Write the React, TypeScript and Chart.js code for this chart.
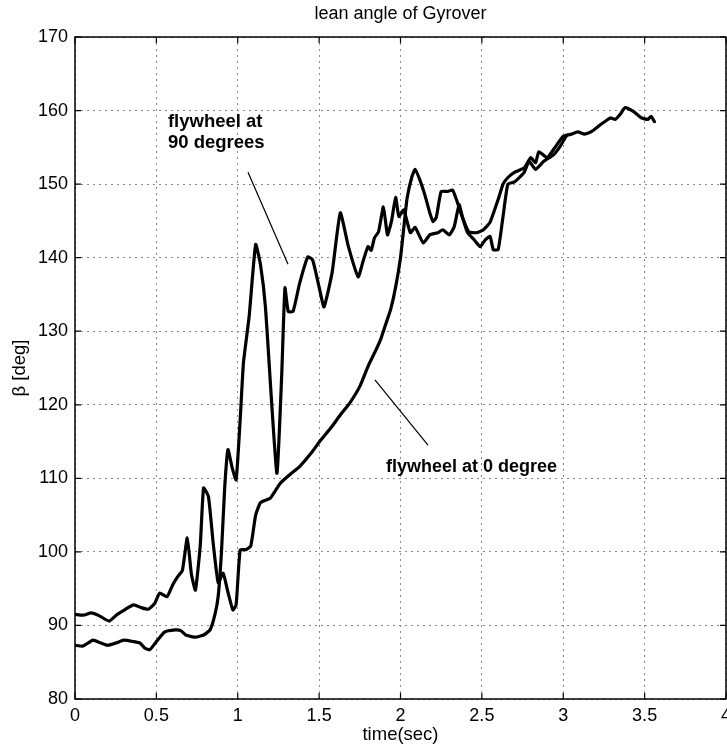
import React, { useEffect, useRef } from "react";
import { Chart, registerables } from "chart.js";

Chart.register(...registerables);

const FONT = "'Liberation Sans', Arial, Helvetica, sans-serif";

const titleText = "lean angle of Gyrover";
const xAxisTitle = "time(sec)";
const yAxisTitle = "β [deg]";

const xTickValues = [0, 0.5, 1, 1.5, 2, 2.5, 3, 3.5, 4];
const yTickValues = [80, 90, 100, 110, 120, 130, 140, 150, 160, 170];

// flywheel at 0 degree (starts near 91)
const time0 = [
  0, 0.05, 0.1, 0.15, 0.21, 0.26, 0.31, 0.36, 0.41, 0.45, 0.49, 0.52, 0.565, 0.6, 0.63, 0.66, 0.69, 0.715,
  0.74, 0.77, 0.79, 0.82, 0.85, 0.88, 0.91, 0.94, 0.97, 0.99, 1.015, 1.05, 1.08, 1.11, 1.14, 1.2, 1.26,
  1.32, 1.38, 1.45, 1.51, 1.57, 1.63, 1.69, 1.75, 1.8, 1.85, 1.88, 1.91, 1.94, 1.97, 2.0, 2.02, 2.04,
  2.07, 2.09, 2.12, 2.15, 2.18, 2.2, 2.22, 2.25, 2.29, 2.32, 2.35, 2.38, 2.42, 2.47, 2.51, 2.55, 2.6,
  2.63, 2.66, 2.7, 2.76, 2.8, 2.83, 2.85, 2.9, 2.94, 3.0, 3.05, 3.09, 3.13, 3.17, 3.23, 3.29, 3.32,
  3.35, 3.38, 3.43, 3.48, 3.52, 3.54, 3.56,
];
const beta0 = [
  91.5, 91.4, 91.7, 91.3, 90.6, 91.5, 92.2, 92.8, 92.4, 92.2, 93.0, 94.4, 93.9, 95.5, 96.6, 97.5, 101.9, 97,
  94.8, 101, 108.7, 107.5, 101, 95.8, 97.1, 94.5, 92.1, 92.8, 100.3, 100.3, 100.8, 105, 106.7, 107.3, 109.3,
  110.5, 111.6, 113.4, 115.2, 116.8, 118.6, 120.3, 122.5, 125.2, 127.5, 129.0, 131, 133, 136, 140, 144, 148,
  151, 152, 150.5, 148.5, 146.1, 144.9, 145.5, 149, 149, 149.2, 147.5, 145.5, 143.5, 143.4, 143.8, 144.8, 147.9,
  150, 150.9, 151.6, 152.2, 153.6, 152.9, 154.4, 153.6, 154.7, 156.5, 156.8, 157.1, 156.8, 157.1, 158.1, 159, 158.8,
  159.5, 160.4, 159.9, 159, 158.8, 159.2, 158.5,
];

// flywheel at 90 degrees (starts near 87)
const time90 = [
  0, 0.05, 0.11, 0.16, 0.2, 0.25, 0.3, 0.36, 0.4, 0.43, 0.46, 0.5, 0.55, 0.615, 0.65, 0.68, 0.74, 0.79,
  0.83, 0.86, 0.88, 0.9, 0.92, 0.94, 0.965, 0.99, 1.015, 1.035, 1.07, 1.11, 1.14, 1.17, 1.24, 1.27, 1.29,
  1.31, 1.34, 1.38, 1.43, 1.46, 1.5, 1.53, 1.58, 1.63, 1.68, 1.74, 1.77, 1.8, 1.82, 1.84, 1.865, 1.895,
  1.92, 1.945, 1.97, 1.99, 2.02, 2.06, 2.09, 2.14, 2.18, 2.23, 2.26, 2.3, 2.33, 2.36, 2.38, 2.41, 2.45,
  2.49, 2.52, 2.55, 2.57, 2.6, 2.63, 2.66, 2.7, 2.76, 2.79, 2.83, 2.88, 2.94, 2.98, 3.02,
];
const beta90 = [
  87.3, 87.2, 88.0, 87.6, 87.3, 87.6, 88.0, 87.8, 87.6, 86.9, 86.7, 87.8, 89.1, 89.4, 89.3, 88.7, 88.4, 88.7,
  89.4, 91.5, 94, 100, 108.8, 113.9, 111.5, 109.8, 118, 125.7, 132, 141.8, 139, 133.3, 110.7, 124, 135.9,
  132.7, 132.7, 136.5, 140.1, 139.7, 136, 133.3, 138, 146.1, 141.5, 137.4, 139.5, 141.5, 141, 142.7, 143.5, 146.9,
  143.1, 145, 148.2, 145.6, 146.5, 143.4, 144.1, 142, 143.1, 143.4, 143.8, 143.1, 144.2, 147.2, 145.6, 143.5, 142.5,
  141.5, 142.4, 142.9, 141.1, 141.1, 145.6, 150, 150.3, 151.6, 153.1, 152, 153.1, 154, 155.1, 156.6,
];

// annotations (data coordinates)
const label90Lines = ["flywheel at", "90 degrees"];
const label90Pos = [0.571, 158.4];
const label90LineGap = 2.85;
const leader90 = [
  [1.063, 151.6],
  [1.309, 139.1],
];
const label0Text = "flywheel at 0 degree";
const label0Pos = [1.911, 111.5];
const leader0 = [
  [1.843, 123.4],
  [2.169, 114.5],
];

const decorPlugin = {
  id: "decor",
  afterDraw(chart: any) {
    const { ctx, chartArea: a, scales } = chart;
    const xs = scales.x;
    const ys = scales.y;
    ctx.save();
    ctx.setLineDash([]);
    // box
    ctx.strokeStyle = "#000";
    ctx.lineWidth = 1.5;
    ctx.strokeRect(a.left, a.top, a.right - a.left, a.bottom - a.top);
    // inward ticks
    ctx.lineWidth = 1.2;
    ctx.beginPath();
    const tl = 6;
    xTickValues.forEach((v) => {
      const px = xs.getPixelForValue(v);
      ctx.moveTo(px, a.bottom);
      ctx.lineTo(px, a.bottom - tl);
      ctx.moveTo(px, a.top);
      ctx.lineTo(px, a.top + tl);
    });
    yTickValues.forEach((v) => {
      const py = ys.getPixelForValue(v);
      ctx.moveTo(a.left, py);
      ctx.lineTo(a.left + tl, py);
      ctx.moveTo(a.right, py);
      ctx.lineTo(a.right - tl, py);
    });
    ctx.stroke();

    // leader lines
    ctx.lineWidth = 1.2;
    ctx.beginPath();
    [leader90, leader0].forEach((seg) => {
      ctx.moveTo(xs.getPixelForValue(seg[0][0]), ys.getPixelForValue(seg[0][1]));
      ctx.lineTo(xs.getPixelForValue(seg[1][0]), ys.getPixelForValue(seg[1][1]));
    });
    ctx.stroke();

    ctx.fillStyle = "#000";
    // title
    const cx = (a.left + a.right) / 2;
    ctx.font = `18px ${FONT}`;
    ctx.textAlign = "center";
    ctx.textBaseline = "middle";
    ctx.fillText(titleText, cx, 14);
    // x axis title
    ctx.font = `18.5px ${FONT}`;
    ctx.fillText(xAxisTitle, cx, 735);
    // y axis title
    ctx.save();
    ctx.translate(20, (a.top + a.bottom) / 2);
    ctx.rotate(-Math.PI / 2);
    ctx.fillText(yAxisTitle, 0, 0);
    ctx.restore();

    // annotation texts
    ctx.font = `bold 18.5px ${FONT}`;
    ctx.textAlign = "left";
    label90Lines.forEach((line, i) => {
      ctx.fillText(
        line,
        xs.getPixelForValue(label90Pos[0]),
        ys.getPixelForValue(label90Pos[1] - i * label90LineGap)
      );
    });
    ctx.font = `bold 18px ${FONT}`;
    ctx.fillText(label0Text, xs.getPixelForValue(label0Pos[0]), ys.getPixelForValue(label0Pos[1]));
    ctx.restore();
  },
};

export default function App() {
  const canvasRef = useRef<HTMLCanvasElement | null>(null);

  useEffect(() => {
    document.body.style.margin = "0";
    const canvas = canvasRef.current;
    if (!canvas) return;
    const toPts = (t: number[], v: number[]) => t.map((x, i) => ({ x, y: v[i] }));
    const lineStyle = {
      borderColor: "#000",
      borderWidth: 3.2,
      pointRadius: 0,
      tension: 0.15,
      borderJoinStyle: "round" as const,
      borderCapStyle: "round" as const,
      fill: false,
    };
    const chart = new Chart(canvas, {
      type: "line",
      data: {
        datasets: [
          { label: "flywheel at 0 degree", data: toPts(time0, beta0), ...lineStyle },
          { label: "flywheel at 90 degrees", data: toPts(time90, beta90), ...lineStyle },
        ],
      },
      options: {
        animation: false,
        responsive: false,
        devicePixelRatio: 1,
        layout: { padding: { top: 37, right: 1, left: 0, bottom: 0 } },
        plugins: {
          legend: { display: false },
          title: { display: false },
          tooltip: { enabled: false },
        },
        scales: {
          x: {
            type: "linear",
            min: 0,
            max: 4,
            afterBuildTicks: (axis: any) => {
              axis.ticks = xTickValues.map((v) => ({ value: v }));
            },
            afterFit: (axis: any) => {
              axis.height = 46;
              axis.paddingLeft = 0;
              axis.paddingRight = 0;
            },
            ticks: {
              color: "#000",
              font: { size: 18, family: FONT },
              padding: 6,
              maxRotation: 0,
              autoSkip: false,
              callback: (v: any) => String(v),
            },
            grid: { color: "#8a8a8a", lineWidth: 1, drawTicks: false },
            border: { display: false, dash: [2, 4] },
          },
          y: {
            type: "linear",
            min: 80,
            max: 170,
            afterBuildTicks: (axis: any) => {
              axis.ticks = yTickValues.map((v) => ({ value: v }));
            },
            afterFit: (axis: any) => {
              axis.width = 75;
              axis.paddingTop = 0;
              axis.paddingBottom = 0;
            },
            ticks: {
              color: "#000",
              font: { size: 18, family: FONT },
              padding: 7,
              autoSkip: false,
              callback: (v: any) => String(v),
            },
            grid: { color: "#8a8a8a", lineWidth: 1, drawTicks: false },
            border: { display: false, dash: [2, 4] },
          },
        },
      },
      plugins: [decorPlugin],
    });
    return () => chart.destroy();
  }, []);

  return <canvas ref={canvasRef} width={727} height={745} style={{ display: "block" }} />;
}
